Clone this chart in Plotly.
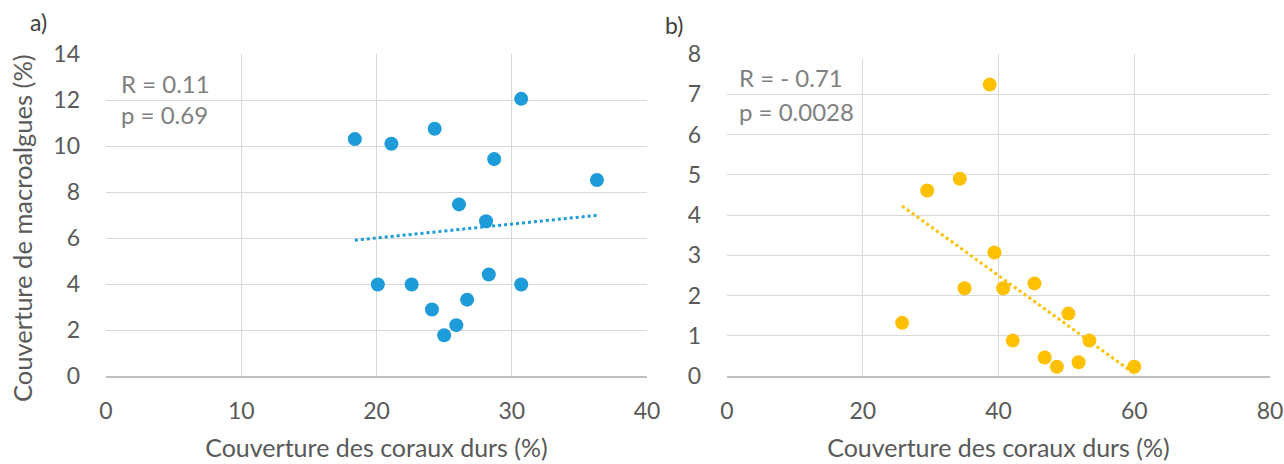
import numpy as np
import plotly.graph_objects as go

# ---- data ----
coral_a = [18.4, 21.1, 24.3, 30.7, 28.7, 36.3, 26.1, 28.1, 28.3, 20.1, 22.6, 30.7, 26.7, 24.1, 25.9, 25.0]
algae_a = [10.3, 10.1, 10.75, 12.05, 9.43, 8.52, 7.46, 6.73, 4.41, 3.98, 3.98, 3.98, 3.32, 2.89, 2.21, 1.77]

coral_b = [38.7, 29.5, 34.3, 39.4, 35.0, 40.7, 45.3, 25.8, 50.3, 42.1, 53.4, 46.8, 48.6, 51.8, 60.0]
algae_b = [7.24, 4.61, 4.90, 3.07, 2.18, 2.18, 2.30, 1.32, 1.55, 0.88, 0.88, 0.46, 0.23, 0.34, 0.23]

x_title = "Couverture des coraux durs (%)"
y_title = "Couverture de macroalgues (%)"
stats_a = ["R = 0.11", "p = 0.69"]
stats_b = ["R = - 0.71", "p = 0.0028"]
panel_labels = ["a)", "b)"]

BLUE = "#1E9BD9"
GOLD = "#FFC000"
GRID = "#D9D9D9"
TICK = "#595959"
STAT = "#7F7F7F"
FONT = "Lato"

W, H = 1284, 464


def trend(x, y):
    x = np.asarray(x, float)
    y = np.asarray(y, float)
    m, b = np.polyfit(x, y, 1)
    xs = np.array([x.min(), x.max()])
    return xs, m * xs + b


fig = go.Figure()

for xs, ys, color, xa, ya in [(coral_a, algae_a, BLUE, "x", "y"),
                              (coral_b, algae_b, GOLD, "x2", "y2")]:
    tx, ty = trend(xs, ys)
    fig.add_trace(go.Scatter(x=tx, y=ty, mode="lines", xaxis=xa, yaxis=ya,
                             line=dict(color=color, width=3, dash="dot"),
                             hoverinfo="skip", showlegend=False))
    fig.add_trace(go.Scatter(x=xs, y=ys, mode="markers", xaxis=xa, yaxis=ya,
                             marker=dict(color=color, size=14, line=dict(width=0)),
                             showlegend=False))

def px_x(p):
    return p / W

def px_y(p):
    return 1 - p / H

dom_y = [px_y(376), px_y(54)]
axis_common = dict(showgrid=True, gridcolor=GRID, gridwidth=1.3, zeroline=False,
                   automargin=False,
                   tickfont=dict(family=FONT, size=23, color=TICK), ticks="")

fig.update_layout(
    width=W, height=H,
    margin=dict(l=0, r=0, t=0, b=0),
    paper_bgcolor="white", plot_bgcolor="white",
    font=dict(family=FONT, color=TICK),
    xaxis=dict(domain=[px_x(106), px_x(647)], range=[0, 40], dtick=10, anchor="y",
               showline=True, linecolor="#BFBFBF", linewidth=1.5,
               ticklabelstandoff=14,
               title=dict(text=x_title, font=dict(family=FONT, size=25, color=TICK), standoff=16),
               **axis_common),
    yaxis=dict(domain=dom_y, range=[0, 14], dtick=2, anchor="x",
               ticklabelstandoff=25,
               **axis_common),
    xaxis2=dict(domain=[px_x(727), px_x(1270)], range=[0, 80], dtick=20, anchor="y2",
                showline=True, linecolor="#BFBFBF", linewidth=1.5,
                ticklabelstandoff=14,
                title=dict(text=x_title, font=dict(family=FONT, size=25, color=TICK), standoff=16),
                **axis_common),
    yaxis2=dict(domain=dom_y, range=[0, 8], dtick=1, anchor="x2",
                ticklabelstandoff=25,
                **axis_common),
)

# y-axis title of panel a
fig.add_annotation(x=px_x(22), y=px_y(228), xref="paper", yref="paper",
                   text=y_title, textangle=-90, showarrow=False,
                   xanchor="center", yanchor="middle",
                   font=dict(family=FONT, size=25.5, color=TICK))

# white text box of panel b covering the top border
fig.add_shape(type="rect", xref="paper", yref="paper",
              x0=px_x(736), x1=px_x(875), y0=px_y(59), y1=px_y(50),
              fillcolor="white", line=dict(width=0), layer="above")

annots = [
    (119, 84, stats_a[0]), (119, 115, stats_a[1]),
    (737, 77, stats_b[0]), (737, 111, stats_b[1]),
]
for x, y, t in annots:
    fig.add_annotation(x=px_x(x), y=px_y(y), xref="paper", yref="paper",
                       text=t, showarrow=False, xanchor="left", yanchor="middle",
                       font=dict(family=FONT, size=24, color=STAT))

for x, y, t in [(28, 22, panel_labels[0]), (663, 25, panel_labels[1])]:
    fig.add_annotation(x=px_x(x), y=px_y(y), xref="paper", yref="paper",
                       text=t, showarrow=False, xanchor="left", yanchor="middle",
                       font=dict(family=FONT, size=23, color="#404040"))

fig.write_html("out.html",
               config={"displayModeBar": False},
               post_script="document.body.style.margin='0';document.body.style.overflow='hidden';")
